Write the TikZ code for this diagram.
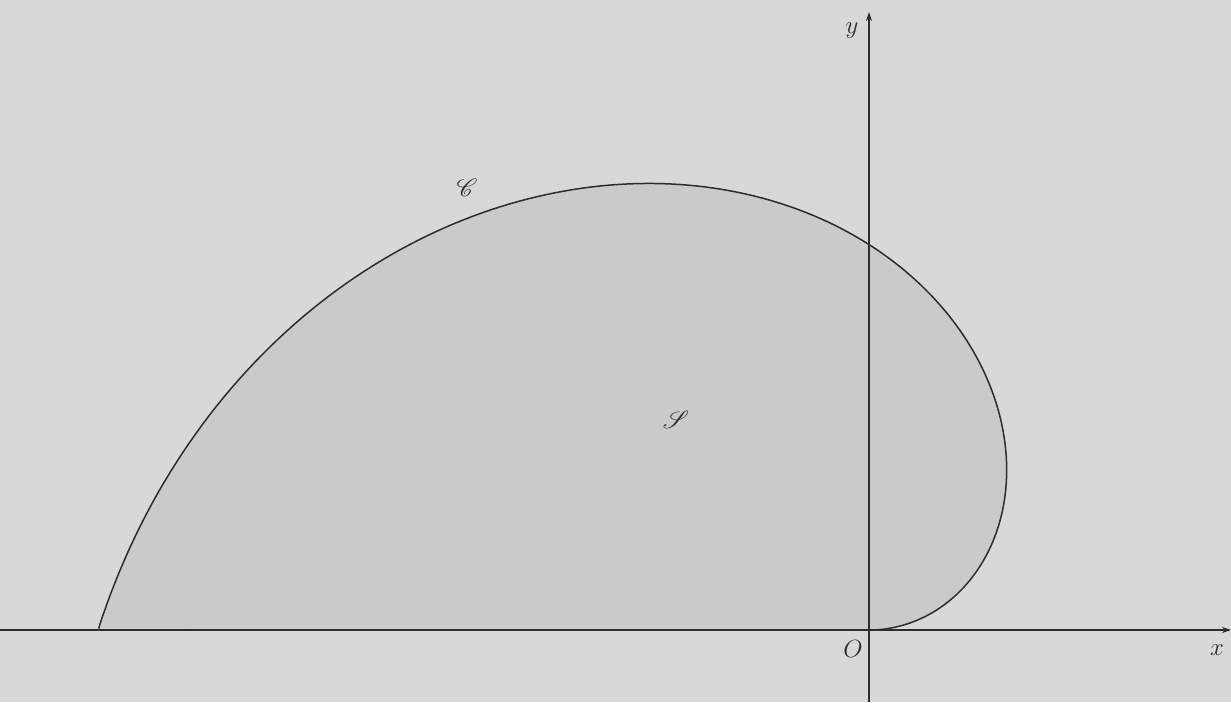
\documentclass[tikz,border=0pt]{standalone}
\usepackage{mathrsfs}
\usetikzlibrary{arrows.meta}
\definecolor{bg}{RGB}{216,216,213}
\definecolor{regionfill}{RGB}{202,202,199}
\definecolor{ink}{RGB}{45,45,45}
\tikzset{
  axis/.style={draw=ink, line width=1.2pt, -{Stealth[length=9pt,width=6pt]}},
  curve/.style={draw=ink, line width=1.5pt},
  lbl/.style={text=ink, font=\fontsize{24}{28}\selectfont, inner sep=0pt}
}
\begin{document}
\begin{tikzpicture}[x=1pt,y=1pt]
\fill[bg] (0,0) rectangle (1231,702);
\useasboundingbox (0,0) rectangle (1231,702);
\coordinate (O) at (869,72);
\coordinate (xl) at (0,72);
\coordinate (xr) at (1231,72);
\coordinate (yb) at (869,0);
\coordinate (yt) at (869,690);
% region and spiral r = a*theta
\fill[regionfill] plot[domain=0:3.14159, samples=200, variable=\t]
  ({869+245.4*\t*cos(\t r)},{72+245.4*\t*sin(\t r)}) -- cycle;
\draw[axis] (xl) -- (xr);
\draw[axis] (yb) -- (yt);
\draw[curve] plot[domain=0:3.14159, samples=200, variable=\t]
  ({869+245.4*\t*cos(\t r)},{72+245.4*\t*sin(\t r)});
\node[lbl] (lO) at (853,53) {$O$};
\node[lbl] (lx) at (1217,52) {$x$};
\node[lbl] (ly) at (852,671) {$y$};
\node[lbl] (lC) at (467,514) {$\mathscr{C}$};
\node[lbl] (lS) at (676,282) {$\mathscr{S}$};
\end{tikzpicture}
\end{document}
